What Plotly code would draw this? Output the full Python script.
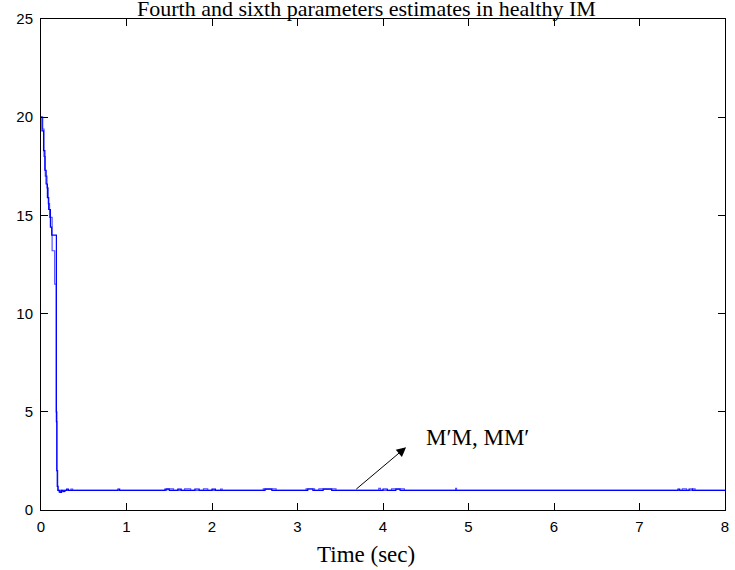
import plotly.graph_objects as go

# ---- data ----
title_text = "Fourth and sixth parameters estimates in healthy IM"
x_label = "Time (sec)"
annot_text = "M\u2032M, MM\u2032"

# first estimate (darker trace), step-wise
t_a = [0, 0.012, 0.03, 0.045, 0.06, 0.075, 0.09, 0.11, 0.125, 0.18, 0.185, 0.19, 0.2,
       0.22, 0.24, 0.26, 0.28, 0.3, 0.32,
       0.9, 0.92, 1.45, 1.5, 1.6, 1.64, 1.8, 1.85, 2.0, 2.04,
       2.62, 2.7, 3.12, 3.18, 3.3, 3.4, 4.0, 4.05, 4.15, 4.2,
       7.45, 7.47, 7.58, 7.62, 8.0]
v_a = [20, 19.3, 18.3, 17.3, 16.6, 15.9, 15.3, 14.4, 14.0, 4.5, 2.0, 1.2, 1.0,
       0.9, 1.0, 0.95, 1.0, 1.06, 1.0,
       1.07, 1.0, 1.06, 1.0, 1.06, 1.0, 1.07, 1.0, 1.06, 1.0,
       1.06, 1.0, 1.07, 1.0, 1.06, 1.0, 1.07, 1.0, 1.06, 1.0,
       1.07, 1.0, 1.07, 1.0, 1.0]

# second estimate (lighter trace), step-wise
t_b = [0, 0.02, 0.035, 0.05, 0.07, 0.085, 0.1, 0.13, 0.16, 0.178, 0.186, 0.195, 0.21,
       0.23, 0.25, 0.27, 0.35, 0.37,
       1.47, 1.55, 1.68, 1.75, 1.9, 1.95, 2.1, 2.12,
       2.6, 2.75, 3.1, 3.2, 3.25, 3.45, 3.95, 3.97, 4.1, 4.25,
       4.85, 4.86, 7.5, 7.55, 7.62, 7.65, 8.0]
v_b = [20, 19.4, 18.0, 17.0, 16.4, 15.6, 14.9, 13.2, 11.5, 5.0, 2.0, 1.0, 0.92,
       1.0, 0.93, 1.0, 1.06, 1.0,
       1.08, 1.0, 1.08, 1.0, 1.08, 1.0, 1.06, 1.0,
       1.08, 1.0, 1.08, 1.0, 1.08, 1.0, 1.1, 1.0, 1.08, 1.0,
       1.1, 1.0, 1.08, 1.0, 1.08, 1.0, 1.0]

x_ticks = [0, 1, 2, 3, 4, 5, 6, 7, 8]
y_ticks = [0, 5, 10, 15, 20, 25]

# arrow: tail on the line, head pointing to the label
arrow_tail = (3.67, 1.0)
arrow_head = (4.27, 3.2)
label_pos = (5.1, 3.7)

fig = go.Figure()
fig.add_trace(go.Scatter(x=t_b, y=v_b, mode="lines", line=dict(color="rgba(50,50,255,0.85)", width=1.2, shape="hv"),
                         showlegend=False))
fig.add_trace(go.Scatter(x=t_a, y=v_a, mode="lines", line=dict(color="#0000ff", width=1.2, shape="hv"),
                         showlegend=False))

axis_common = dict(showline=True, linecolor="black", linewidth=1, mirror="allticks",
                   ticks="inside", ticklen=7, tickwidth=1, tickcolor="black",
                   showgrid=False, zeroline=False,
                   tickfont=dict(family="Liberation Sans, Arial", size=15, color="black"))

fig.update_layout(
    width=735, height=570,
    margin=dict(l=41, r=6, t=19, b=60),
    paper_bgcolor="white", plot_bgcolor="white",
    xaxis=dict(range=[0, 8], tickvals=x_ticks, ticklabelstandoff=3, **axis_common),
    yaxis=dict(range=[0, 25], tickvals=y_ticks, ticklabelstandoff=4, **axis_common),
)

cx = (368 - 41) / 688
fig.add_annotation(text=title_text, xref="paper", yref="paper", x=cx, y=(510 - 9) / 491,
                   xanchor="center", yanchor="middle", showarrow=False,
                   font=dict(family="Liberation Serif, Times New Roman", size=22, color="black"))
fig.add_annotation(text=x_label, xref="paper", yref="paper", x=cx, y=-(554 - 510) / 491,
                   xanchor="center", yanchor="middle", showarrow=False,
                   font=dict(family="Liberation Serif, Times New Roman", size=23, color="black"))
fig.add_annotation(text=annot_text, x=label_pos[0], y=label_pos[1], xref="x", yref="y",
                   xanchor="center", yanchor="middle", showarrow=False,
                   font=dict(family="Liberation Serif, Times New Roman", size=23, color="black"))
fig.add_annotation(text="", x=arrow_head[0], y=arrow_head[1], xref="x", yref="y",
                   ax=arrow_tail[0], ay=arrow_tail[1], axref="x", ayref="y",
                   showarrow=True, arrowhead=2, arrowsize=1.9, arrowwidth=1, arrowcolor="black")

fig.write_html("out.html")
